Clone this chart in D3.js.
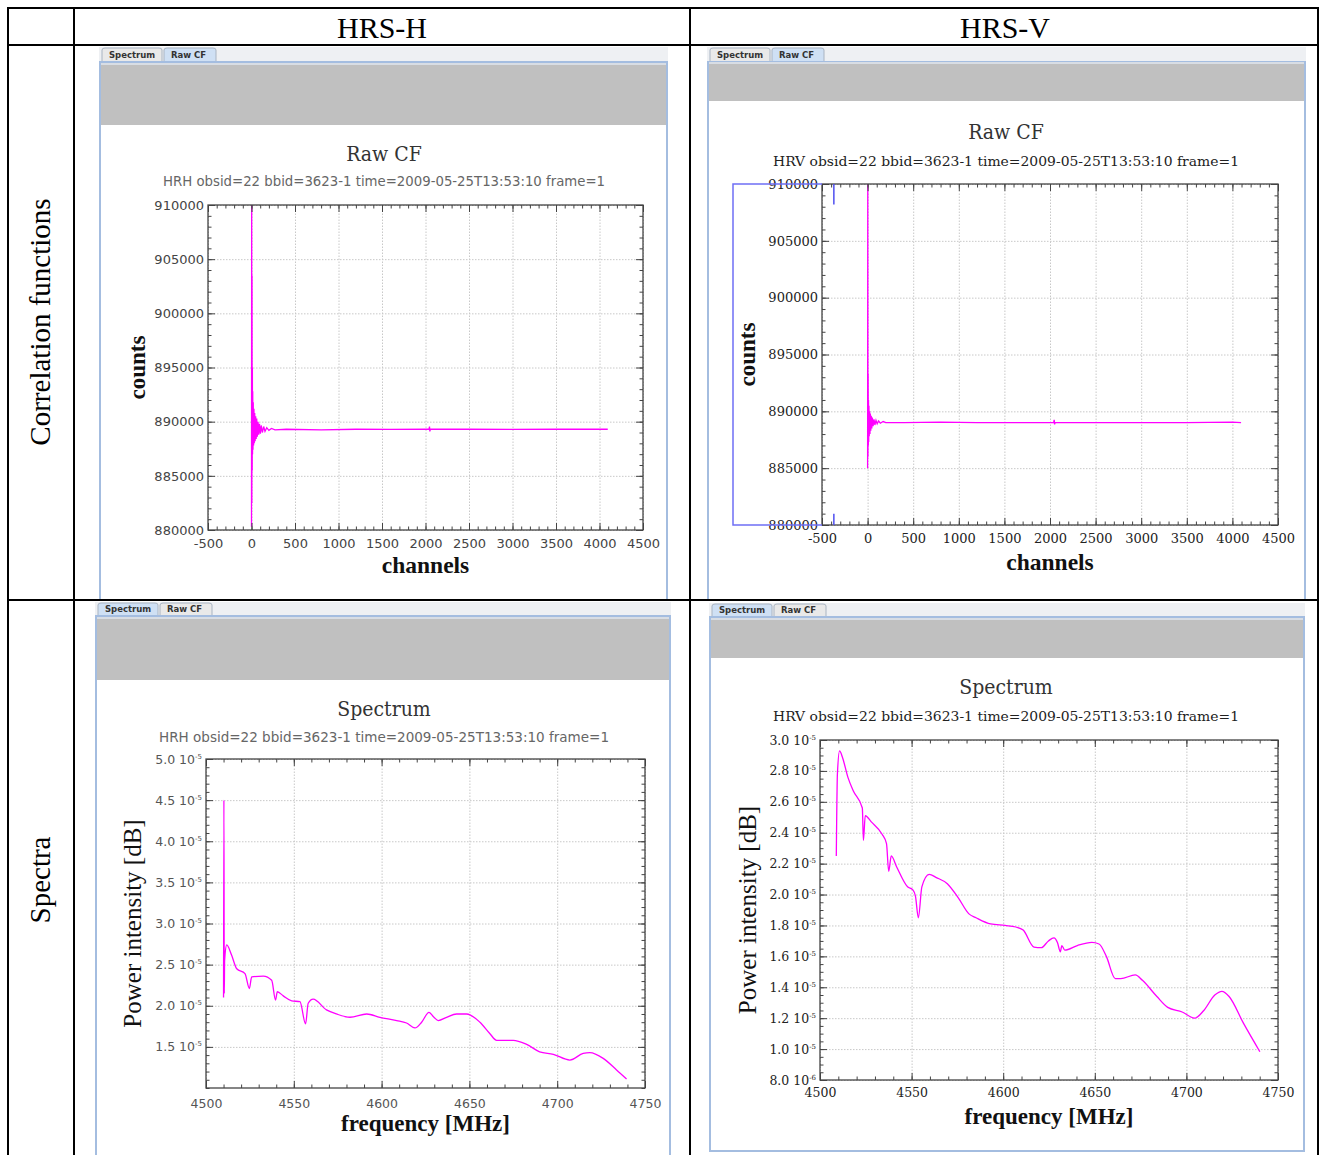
<!DOCTYPE html>
<html>
<head>
<meta charset="utf-8">
<script src="https://cdn.jsdelivr.net/npm/d3@7"></script>
<style>
body { margin: 0; background: #fff; }
</style>
</head>
<body>
<div class="fig"></div>
<script>
// table headings
const columnHeads = ["HRS-H", "HRS-V"]
const rowHeads = ["Correlation functions", "Spectra"]

// correlation function ticks
const cfTicksX = [-500, 0, 500, 1000, 1500, 2000, 2500, 3000, 3500, 4000, 4500]
const cfTicksY = [880000, 885000, 890000, 895000, 900000, 905000, 910000]

// raw CF, HRS-H (channel, counts)
const cfChanH = [0, 2, 4, 6, 8, 10, 12, 14, 17, 20, 24, 28, 32, 37, 42, 48, 54, 60, 67, 75, 83, 92, 102, 112, 125, 140, 155, 175, 200, 230, 270,
  400, 800, 1200, 1600, 2000, 2040, 2046, 2050, 2056, 2100, 2500, 3000, 3500, 4000, 4095]
const cfCountH = [880300, 912000, 882500, 903500, 885500, 895000, 887000, 892800, 887400, 891800, 887800, 891200, 888000, 890800, 888200, 890500, 888400, 890300, 888600, 890000, 888800, 889800, 888900, 889650, 889000, 889550, 889100, 889450, 889200, 889380, 889250,
  889300, 889250, 889300, 889280, 889300, 889300, 889550, 889100, 889300, 889300, 889300, 889280, 889300, 889300, 889300]

// raw CF, HRS-V (channel, counts)
const cfChanV = [0, 2, 4, 6, 8, 10, 12, 15, 18, 22, 26, 30, 35, 40, 46, 52, 60, 70, 80, 92, 105, 120, 140, 170, 200,
  400, 800, 1200, 1600, 2000, 2040, 2046, 2050, 2056, 2100, 2500, 3000, 3500, 4000, 4095]
const cfCountV = [885000, 912000, 886000, 893300, 887000, 891000, 887300, 890500, 887800, 890000, 888000, 889800, 888300, 889600, 888500, 889450, 888700, 889300, 888800, 889200, 888900, 889150, 888950, 889100, 889000,
  889000, 889050, 889000, 889000, 889000, 889000, 889250, 888850, 889000, 889000, 889000, 889000, 889000, 889050, 889000]

// spectrum ticks (power in units of 1e-5)
const specTicksX = [4500, 4550, 4600, 4650, 4700, 4750]
const specTicksYH = [1.5, 2.0, 2.5, 3.0, 3.5, 4.0, 4.5, 5.0]
const specTicksYV = [0.8, 1.0, 1.2, 1.4, 1.6, 1.8, 2.0, 2.2, 2.4, 2.6, 2.8, 3.0]

// spectrum, HRS-H (MHz, power x1e-5)
const specFreqH = [4510.0, 4510.2, 4510.4, 4510.6, 4511.8, 4514.5, 4517.5, 4522.2, 4524.7, 4526.0, 4532.6, 4537.4, 4539.6, 4540.6, 4544.0, 4548.8, 4553.5, 4556.7, 4558.2, 4561.0,
  4568.6, 4574.3, 4582.0, 4591.5, 4599.0, 4608.6, 4614.2, 4619.0, 4622.8, 4627.0, 4629.8, 4632.3, 4637.0, 4642.7, 4648.4, 4656.0, 4661.7, 4665.5,
  4675.0, 4682.6, 4690.0, 4697.8, 4707.2, 4714.8, 4718.6, 4726.2, 4733.8, 4739.5]
const specPowH = [2.10, 4.50, 2.15, 2.55, 2.74, 2.62, 2.45, 2.39, 2.21, 2.35, 2.36, 2.31, 2.07, 2.17, 2.12, 2.06, 2.05, 1.78, 2.03, 2.08,
  1.95, 1.90, 1.86, 1.90, 1.86, 1.82, 1.79, 1.73, 1.80, 1.92, 1.86, 1.82, 1.86, 1.90, 1.90, 1.80, 1.66, 1.58,
  1.58, 1.53, 1.44, 1.41, 1.34, 1.42, 1.43, 1.36, 1.22, 1.11]

// spectrum, HRS-V (MHz, power x1e-5)
const specFreqV = [4508.9, 4509.5, 4510.7, 4512.2, 4515.2, 4518.2, 4523.1, 4523.7, 4524.7, 4528.0, 4533.9, 4536.3, 4537.5, 4538.9, 4541.8, 4547.8, 4550.7, 4552.1, 4553.7,
  4555.6, 4559.6, 4563.5, 4569.5, 4575.4, 4581.3, 4585.2, 4593.1, 4601.0, 4606.9, 4610.9, 4616.8, 4620.8, 4624.7, 4627.7, 4629.6, 4631.2, 4632.0,
  4633.6, 4640.5, 4648.4, 4652.3, 4656.3, 4661.2, 4664.2, 4672.1, 4676.0, 4683.9, 4689.8, 4697.7, 4704.6, 4709.5, 4715.5, 4719.4, 4723.3, 4731.2, 4740.1]
const specPowV = [2.25, 2.78, 2.93, 2.89, 2.76, 2.67, 2.56, 2.35, 2.51, 2.47, 2.39, 2.33, 2.15, 2.25, 2.18, 2.05, 2.03, 1.99, 1.85,
  2.05, 2.13, 2.11, 2.07, 1.98, 1.875, 1.85, 1.81, 1.80, 1.79, 1.77, 1.66, 1.656, 1.70, 1.72, 1.69, 1.63, 1.67,
  1.64, 1.67, 1.69, 1.68, 1.60, 1.456, 1.456, 1.48, 1.445, 1.34, 1.27, 1.24, 1.20, 1.25, 1.35, 1.374, 1.34, 1.166, 0.983]

const W = 1319, H = 1155
const svg = d3.select(".fig").append("svg").attr("width", W).attr("height", H)
const defs = svg.append("defs")
const serif = "'Liberation Serif', 'Times New Roman', serif"
const dvSerif = "'DejaVu Serif', serif"
const dvSans = "'DejaVu Sans', sans-serif"
const magenta = "#ff00ff"

// screenshot window: tabs, grey band, light blue frame
function drawWindow(w) {
  const g = svg.append("g")
  g.append("rect").attr("x", w.x0).attr("y", w.tabY).attr("width", w.x1 - w.x0).attr("height", w.bottom - w.tabY).attr("fill", "#fff")
  g.append("rect").attr("x", w.x0).attr("y", w.tabY).attr("width", w.x1 - w.x0).attr("height", w.tabH).attr("fill", "#eef0f3")
  const tabs = [{name: "Spectrum", wd: 60}, {name: "Raw CF", wd: 52}]
  let tx = w.x0 + 3
  tabs.forEach((t, i) => {
    const on = (i === w.sel)
    g.append("path")
      .attr("d", `M${tx},${w.tabY + w.tabH} V${w.tabY + 3} Q${tx},${w.tabY + 1} ${tx + 3},${w.tabY + 1} H${tx + t.wd - 3} Q${tx + t.wd},${w.tabY + 1} ${tx + t.wd},${w.tabY + 3} V${w.tabY + w.tabH}`)
      .attr("fill", on ? "#cfe0f4" : "#e9e9e9").attr("stroke", "#a9b4c2").attr("stroke-width", 1)
    g.append("text").attr("x", tx + 7).attr("y", w.tabY + w.tabH - 4)
      .attr("font-family", dvSans).attr("font-size", 8.5).attr("font-weight", "bold").attr("fill", "#333")
      .text(t.name)
    tx += t.wd + 2
  })
  // frame
  g.append("rect").attr("x", w.x0 + 1).attr("y", w.tabY + w.tabH).attr("width", w.x1 - w.x0 - 2).attr("height", w.bottom - w.tabY - w.tabH)
    .attr("fill", "#fff").attr("stroke", "#a4bde0").attr("stroke-width", 2)
  g.append("rect").attr("x", w.x0 + 2).attr("y", w.bandY1).attr("width", w.x1 - w.x0 - 4).attr("height", w.bandY2 - w.bandY1)
    .attr("fill", "#c0c0c0")
  g.append("line").attr("x1", w.x0 + 2).attr("x2", w.x1 - 2).attr("y1", w.bandY1).attr("y2", w.bandY1).attr("stroke", "#d8dde4").attr("stroke-width", 2)
}

let clipId = 0
function drawPlot(p) {
  const g = svg.append("g")
  const x = d3.scaleLinear().domain(p.xDomain).range([p.left, p.right])
  const y = d3.scaleLinear().domain(p.yDomain).range([p.bottom, p.top])
  const hgt = p.bottom - p.top, wid = p.right - p.left

  // titles
  g.append("text").attr("x", p.cx).attr("y", p.titleY).attr("text-anchor", "middle")
    .attr("font-family", dvSerif).attr("font-stretch", "condensed").attr("font-size", 21).attr("fill", "#333").text(p.title)
  g.append("text").attr("x", p.cx).attr("y", p.subY).attr("text-anchor", "middle")
    .attr("font-family", p.subFont).attr("font-size", 13.5).attr("fill", p.subColor)
    .attr("textLength", p.subW).attr("lengthAdjust", "spacingAndGlyphs").text(p.subtitle)

  // grid
  g.append("g").attr("transform", `translate(0,${p.bottom})`)
    .call(d3.axisBottom(x).tickValues(p.ticksX).tickSize(-hgt).tickFormat(""))
    .call(a => a.select(".domain").remove())
    .call(a => a.selectAll("line").attr("stroke", "#c8c8c8").attr("stroke-dasharray", "1.5,1.5"))
  g.append("g").attr("transform", `translate(${p.left},0)`)
    .call(d3.axisLeft(y).tickValues(p.ticksY).tickSize(-wid).tickFormat(""))
    .call(a => a.select(".domain").remove())
    .call(a => a.selectAll("line").attr("stroke", "#c8c8c8").attr("stroke-dasharray", "1.5,1.5"))

  // curve
  const id = "clip" + (clipId++)
  defs.append("clipPath").attr("id", id).append("rect").attr("x", p.left).attr("y", p.top).attr("width", wid).attr("height", hgt)
  const pts = p.xs.map((v, i) => [v, p.ys[i]])
  g.append("path").datum(pts).attr("clip-path", `url(#${id})`)
    .attr("d", d3.line().x(d => x(d[0])).y(d => y(d[1])).curve(p.smooth ? d3.curveMonotoneX : d3.curveLinear))
    .attr("fill", "none").attr("stroke", magenta).attr("stroke-width", 1.3)

  // ticks inside, on four sides
  const minX = d3.range(p.xDomain[0], p.xDomain[1] + 1e-9, p.minorX)
  const minY = d3.range(p.yDomain[0], p.yDomain[1] + 1e-9, p.minorY)
  const sides = [
    [d3.axisBottom(x), `translate(0,${p.bottom})`, minX, p.ticksX],
    [d3.axisTop(x), `translate(0,${p.top})`, minX, p.ticksX],
    [d3.axisLeft(y), `translate(${p.left},0)`, minY, p.ticksY],
    [d3.axisRight(y), `translate(${p.right},0)`, minY, p.ticksY]
  ]
  sides.forEach(([ax, tr, minor, major]) => {
    g.append("g").attr("transform", tr).call(ax.tickValues(minor).tickSize(-3.5).tickFormat(""))
      .call(a => a.select(".domain").remove()).call(a => a.selectAll("line").attr("stroke", "#444"))
    g.append("g").attr("transform", tr).call(ax.tickValues(major).tickSize(-7).tickFormat(""))
      .call(a => a.select(".domain").remove()).call(a => a.selectAll("line").attr("stroke", "#444"))
  })
  g.append("rect").attr("x", p.left).attr("y", p.top).attr("width", wid).attr("height", hgt)
    .attr("fill", "none").attr("stroke", "#444").attr("stroke-width", 1.3)

  // tick labels
  g.append("g").attr("transform", `translate(0,${p.bottom})`)
    .call(d3.axisBottom(x).tickValues(p.ticksX).tickSize(0).tickPadding(p.padX).tickFormat(d => d))
    .call(a => a.select(".domain").remove())
    .call(a => a.selectAll("text").attr("font-family", p.tickFont).attr("font-size", p.tickSize).attr("fill", p.tickColor))
  const yl = g.append("g").attr("transform", `translate(${p.left},0)`)
    .call(d3.axisLeft(y).tickValues(p.ticksY).tickSize(0).tickPadding(4).tickFormat(d => d))
    .call(a => a.select(".domain").remove())
    .call(a => a.selectAll("text").attr("font-family", p.tickFont).attr("font-size", p.tickSize).attr("fill", p.tickColor))
  if (p.sci) {
    yl.selectAll("text").text(null).each(function (d) {
      const t = d3.select(this)
      const small = d < 1
      t.append("tspan").text((small ? d * 10 : d).toFixed(1) + " 10")
      t.append("tspan").attr("dy", -5).attr("font-size", 7).text(small ? "-6" : "-5")
    })
  }

  // axis names
  g.append("text").attr("transform", `translate(${p.yLabX},${(p.top + p.bottom) / 2}) rotate(-90)`).attr("text-anchor", "middle")
    .attr("font-family", serif).attr("font-weight", p.yLabBold ? "bold" : "normal").attr("font-size", p.yLabSize).attr("fill", "#111").text(p.yLabel)
  g.append("text").attr("x", (p.left + p.right) / 2).attr("y", p.xLabY).attr("text-anchor", "middle")
    .attr("font-family", serif).attr("font-weight", "bold").attr("font-size", p.xLabSize).attr("fill", "#111").text(p.xLabel)
  return {x, y, g}
}

// ---- four screenshots ----
drawWindow({x0: 99, x1: 668, tabY: 47, tabH: 15, bandY1: 64, bandY2: 125, bottom: 600, sel: 1})
drawWindow({x0: 707, x1: 1306, tabY: 47, tabH: 15, bandY1: 63, bandY2: 101, bottom: 600, sel: 1})
drawWindow({x0: 95, x1: 671, tabY: 602, tabH: 14, bandY1: 618, bandY2: 680, bottom: 1156, sel: 0})
drawWindow({x0: 709, x1: 1305, tabY: 603, tabH: 14, bandY1: 619, bandY2: 658, bottom: 1151, sel: 0})

const sub = "obsid=22 bbid=3623-1 time=2009-05-25T13:53:10 frame=1"

drawPlot({
  cx: 384, titleY: 161, subY: 186, title: "Raw CF", subtitle: "HRH " + sub, subFont: dvSans, subColor: "#666", subW: 442,
  left: 208, right: 643, top: 205, bottom: 530,
  xDomain: [-500, 4500], yDomain: [880000, 910000], ticksX: cfTicksX, ticksY: cfTicksY, minorX: 100, minorY: 1000,
  xs: cfChanH, ys: cfCountH,
  tickFont: dvSans, tickSize: 13, tickColor: "#444", padX: 9,
  yLabel: "counts", yLabX: 145, yLabBold: true, yLabSize: 23, xLabel: "channels", xLabY: 573, xLabSize: 23.5
})

const pv = drawPlot({
  cx: 1006, titleY: 139, subY: 166, title: "Raw CF", subtitle: "HRV " + sub, subFont: dvSerif, subColor: "#222", subW: 466,
  left: 822, right: 1278, top: 184, bottom: 525,
  xDomain: [-500, 4500], yDomain: [880000, 910000], ticksX: cfTicksX, ticksY: cfTicksY, minorX: 100, minorY: 1000,
  xs: cfChanV, ys: cfCountV,
  tickFont: dvSerif, tickSize: 13, tickColor: "#222", padX: 9,
  yLabel: "counts", yLabX: 755, yLabBold: true, yLabSize: 23, xLabel: "channels", xLabY: 570, xLabSize: 23.5
})
// blue selection box left of the HRS-V correlation plot
pv.g.append("path").attr("d", `M${pv.x(-500)},${pv.y(910000)} H733 V${pv.y(880000)} H${pv.x(-500)}`)
  .attr("fill", "none").attr("stroke", "#6f6ff5").attr("stroke-width", 1.5)
pv.g.append("path").attr("d", `M${pv.x(-370)},${pv.y(910000)} V${pv.y(908200)} M${pv.x(-370)},${pv.y(881000)} V${pv.y(880000)}`)
  .attr("fill", "none").attr("stroke", "#5050f0").attr("stroke-width", 1.5)

drawPlot({
  cx: 384, titleY: 716, subY: 742, title: "Spectrum", subtitle: "HRH " + sub, subFont: dvSans, subColor: "#666", subW: 450,
  left: 206, right: 645, top: 759, bottom: 1088,
  xDomain: [4500, 4750], yDomain: [1.0, 5.0], ticksX: specTicksX, ticksY: specTicksYH, minorX: 10, minorY: 0.1,
  xs: specFreqH, ys: specPowH, sci: true, smooth: true,
  tickFont: dvSans, tickSize: 12.5, tickColor: "#555", padX: 11,
  yLabel: "Power intensity [dB]", yLabX: 141, yLabBold: false, yLabSize: 25, xLabel: "frequency [MHz]", xLabY: 1131, xLabSize: 23
})

drawPlot({
  cx: 1006, titleY: 694, subY: 721, title: "Spectrum", subtitle: "HRV " + sub, subFont: dvSerif, subColor: "#222", subW: 466,
  left: 820, right: 1278, top: 740, bottom: 1080,
  xDomain: [4500, 4750], yDomain: [0.8, 3.0], ticksX: specTicksX, ticksY: specTicksYV, minorX: 10, minorY: 0.05,
  xs: specFreqV, ys: specPowV, sci: true, smooth: true,
  tickFont: dvSerif, tickSize: 12.5, tickColor: "#222", padX: 8,
  yLabel: "Power intensity [dB]", yLabX: 756, yLabBold: false, yLabSize: 25, xLabel: "frequency [MHz]", xLabY: 1124, xLabSize: 23
})

// ---- table grid ----
const grid = svg.append("g").attr("stroke", "#000").attr("stroke-width", 2)
;[8, 74, 690, 1318].forEach(xv => grid.append("line").attr("x1", xv).attr("x2", xv).attr("y1", 8).attr("y2", H))
;[8, 45, 600].forEach(yv => grid.append("line").attr("x1", 7).attr("x2", W).attr("y1", yv).attr("y2", yv))

svg.selectAll(".colhead").data(columnHeads).enter().append("text").attr("class", "colhead")
  .attr("x", (d, i) => [382, 1005][i]).attr("y", 38).attr("text-anchor", "middle")
  .attr("font-family", serif).attr("font-size", 30).attr("fill", "#000").text(d => d)
svg.selectAll(".rowhead").data(rowHeads).enter().append("text").attr("class", "rowhead")
  .attr("transform", (d, i) => `translate(50,${[322, 880][i]}) rotate(-90)`).attr("text-anchor", "middle")
  .attr("font-family", serif).attr("font-size", 29).attr("fill", "#000").text(d => d)
</script>
</body>
</html>
